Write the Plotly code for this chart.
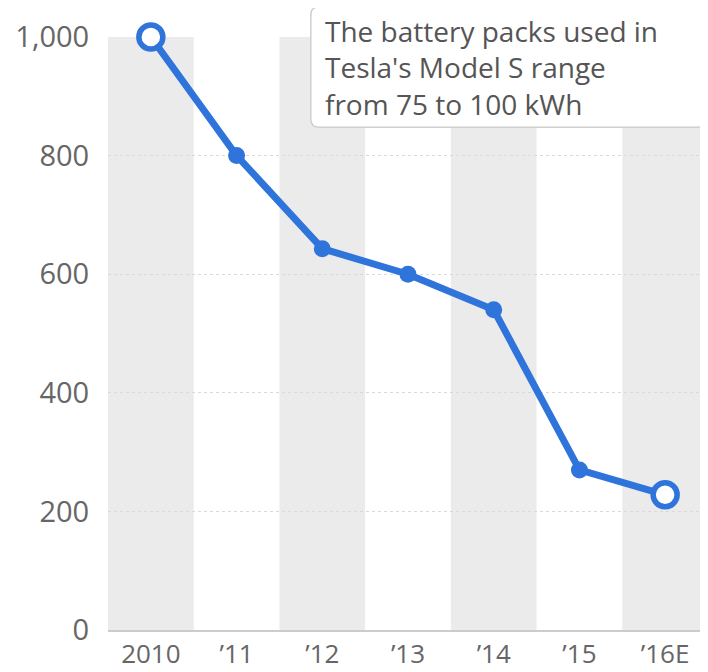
import plotly.graph_objects as go

years = ["2010", "’11", "’12", "’13", "’14", "’15", "’16E"]
cost = [1000, 800, 643, 600, 540, 270, 228]
note = "The battery packs used in<br>Tesla's Model S range<br>from 75 to 100 kWh"

blue = "#2f74db"
n = len(years)
ends = [i in (0, n - 1) for i in range(n)]
fig = go.Figure()
fig.add_trace(go.Scatter(
    x=list(range(n)), y=cost, mode="lines+markers",
    line=dict(color=blue, width=7),
    marker=dict(
        size=[24 if e else 17 for e in ends],
        color=["white" if e else blue for e in ends],
        opacity=1,
        line=dict(color=blue, width=[5.5 if e else 0 for e in ends]),
    ),
    cliponaxis=False, hoverinfo="skip",
))

# alternating bands
for i in range(0, n, 2):
    fig.add_shape(type="rect", xref="x", yref="y", x0=i - 0.5, x1=i + 0.5, y0=0, y1=1000,
                  fillcolor="#ebebeb", line_width=0, layer="below")

# rounded annotation box
x0, x1, y0, y1 = 0.338, 0.995, 0.848, 1.0506
rx, ry = 0.0135, 0.0137
path = (f"M {x0+rx},{y0} L {x1-rx},{y0} Q {x1},{y0} {x1},{y0+ry} "
        f"L {x1},{y1-ry} Q {x1},{y1} {x1-rx},{y1} L {x0+rx},{y1} Q {x0},{y1} {x0},{y1-ry} "
        f"L {x0},{y0+ry} Q {x0},{y0} {x0+rx},{y0} Z")
fig.add_shape(type="path", xref="paper", yref="paper", path=path,
              fillcolor="white", line=dict(color="#cfcfcf", width=1.5), layer="above")
fig.add_annotation(xref="paper", yref="paper", x=0.358, y=1.045, xanchor="left", yanchor="top",
                   text=note, showarrow=False, align="left",
                   font=dict(family="Open Sans", size=28, color="#555555"))

# page body has an 8px margin; figure is sized/offset to compensate
fig.update_layout(
    width=700, height=664,
    margin=dict(l=100, r=0, t=29, b=42, autoexpand=False),
    plot_bgcolor="white", paper_bgcolor="white",
    showlegend=False,
    font=dict(family="Open Sans", color="#666666"),
    xaxis=dict(range=[-0.5, n - 0.5], tickmode="array",
               tickvals=list(range(n)), ticktext=years, automargin=False,
               showgrid=False, zeroline=False, showline=True, linecolor="#cccccc", linewidth=2,
               ticks="", ticklabelstandoff=0,
               tickfont=dict(size=26, color="#666666")),
    yaxis=dict(range=[0, 1000], tickvals=[0, 200, 400, 600, 800, 1000], tickformat=",",
               automargin=False,
               showgrid=True, gridcolor="#d9d9d9", griddash="dot", gridwidth=1,
               zeroline=False, showline=False,
               ticks="outside", ticklen=12, tickcolor="rgba(0,0,0,0)",
               tickfont=dict(size=29, color="#666666")),
)
fig.write_html("out.html")
